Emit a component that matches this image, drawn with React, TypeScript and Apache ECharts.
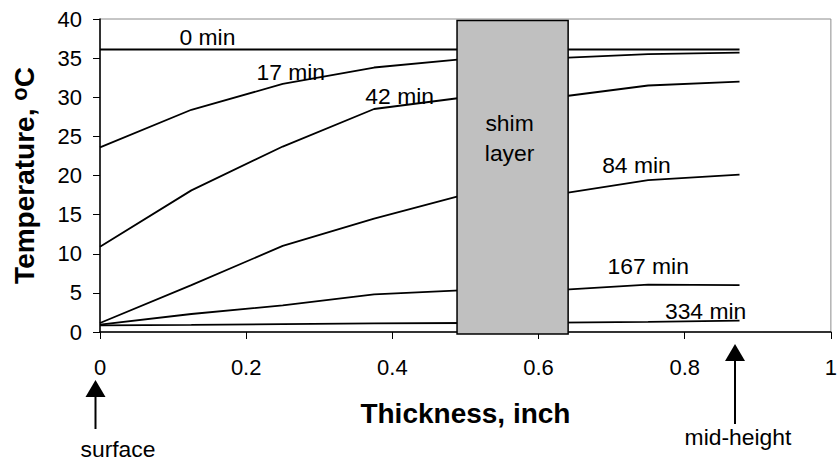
import React, { useEffect, useRef } from "react";
import * as echarts from "echarts";

// Thickness positions (inch)
const THICKNESS = [0, 0.125, 0.25, 0.375, 0.5, 0.625, 0.75, 0.875];

// Temperature profiles (°C) at each time
const T_0MIN = [36.1, 36.1, 36.1, 36.1, 36.1, 36.1, 36.1, 36.1];
const T_17MIN = [23.6, 28.4, 31.7, 33.8, 34.9, 35.0, 35.5, 35.7];
const T_42MIN = [10.9, 18.1, 23.7, 28.5, 30.0, 30.0, 31.5, 32.0];
const T_84MIN = [1.15, 6.0, 11.0, 14.5, 17.6, 17.6, 19.4, 20.1];
const T_167MIN = [0.95, 2.3, 3.4, 4.8, 5.35, 5.35, 6.05, 6.0];
const T_334MIN = [0.85, 0.9, 1.0, 1.1, 1.15, 1.2, 1.3, 1.45];

const SERIES_NAMES = ["0 min", "17 min", "42 min", "84 min", "167 min", "334 min"];
const SERIES_VALUES = [T_0MIN, T_17MIN, T_42MIN, T_84MIN, T_167MIN, T_334MIN];

// Label anchor (data coords) for each series name
const LABEL_X = [0.147, 0.261, 0.41, 0.734, 0.75, 0.8286];
const LABEL_Y = [37.6, 33.2, 30.1, 21.3, 8.4, 2.6];

// Shim layer extent (thickness, inch) and vertical extent (°C)
const SHIM_X = [0.4885, 0.6405];
const SHIM_Y = [-0.27, 39.8];

const FONT = "'Liberation Sans', Arial, sans-serif";

export default function App() {
  const ref = useRef<HTMLDivElement>(null);

  useEffect(() => {
    if (!ref.current) return;
    const chart = echarts.init(ref.current, undefined, { renderer: "svg" });

    const series = SERIES_NAMES.map((name, i) => ({
      name,
      type: "line",
      data: THICKNESS.map((x, j) => [x, SERIES_VALUES[i][j]]),
      symbol: "none",
      silent: true,
      clip: false,
      lineStyle: { color: "#000", width: 1.8 },
      z: 2,
    }));

    chart.setOption({
      animation: false,
      backgroundColor: "#fff",
      grid: {
        left: 100,
        right: 5,
        top: 19,
        bottom: 132,
        show: true,
        borderColor: "#8c8c8c",
        borderWidth: 1,
        backgroundColor: "transparent",
      },
      xAxis: {
        type: "value",
        min: 0,
        max: 1,
        interval: 0.2,
        name: "Thickness, inch",
        nameLocation: "middle",
        nameGap: 67,
        nameTextStyle: { fontSize: 28, fontWeight: "bold", color: "#000", fontFamily: FONT },
        axisLine: { show: true, lineStyle: { color: "#000", width: 1.5 } },
        axisTick: { show: true, length: 7, lineStyle: { color: "#000", width: 1 } },
        axisLabel: { fontSize: 22, color: "#000", fontFamily: FONT, margin: 24 },
        splitLine: { show: false },
      },
      yAxis: {
        type: "value",
        min: 0,
        max: 40,
        interval: 5,
        name: "Temperature, {sup|o}C",
        nameLocation: "middle",
        nameGap: 60,
        nameTextStyle: {
          fontSize: 28,
          fontWeight: "bold",
          color: "#000",
          fontFamily: FONT,
          rich: {
            sup: {
              fontSize: 22,
              fontWeight: "bold",
              color: "#000",
              fontFamily: FONT,
              padding: [0, 0, 10, 0],
            },
          },
        },
        axisLine: { show: true, lineStyle: { color: "#000", width: 1.5 } },
        axisTick: { show: true, length: 7, lineStyle: { color: "#000", width: 1 } },
        axisLabel: { fontSize: 22, color: "#000", fontFamily: FONT, margin: 18 },
        splitLine: { show: false },
      },
      series,
    });

    const p = (x: number, y: number) =>
      chart.convertToPixel({ gridIndex: 0 }, [x, y]) as number[];

    const shimA = p(SHIM_X[0], SHIM_Y[1]);
    const shimB = p(SHIM_X[1], SHIM_Y[0]);

    const txt = (text: string, x: number, y: number, extra: any = {}) => ({
      type: "text",
      x,
      y,
      z: 60,
      scaleX: 1.04,
      style: {
        text,
        fontSize: 22,
        fontFamily: FONT,
        fill: "#000",
        align: "center",
        verticalAlign: "middle",
        ...extra,
      },
    });

    const labelEls = SERIES_NAMES.map((name, i) => {
      const pt = p(LABEL_X[i], LABEL_Y[i]);
      return txt(name, pt[0], pt[1]);
    });

    const x0 = p(0, 0)[0] - 4.5;
    const xMid = p(0.875, 0)[0] - 4.5;

    const arrow = (x: number, tipY: number, baseY: number, endY: number) => [
      {
        type: "polygon",
        z: 60,
        shape: { points: [[x, tipY], [x - 10, baseY], [x + 10, baseY]] },
        style: { fill: "#000" },
      },
      {
        type: "line",
        z: 60,
        shape: { x1: x, y1: baseY - 1, x2: x, y2: endY },
        style: { stroke: "#000", lineWidth: 2 },
      },
    ];

    chart.setOption({
      graphic: [
        {
          type: "rect",
          z: 50,
          shape: {
            x: shimA[0],
            y: shimA[1],
            width: shimB[0] - shimA[0],
            height: shimB[1] - shimA[1],
          },
          style: { fill: "#c0c0c0", stroke: "#000", lineWidth: 1.5 },
        },
        txt("shim\nlayer", (shimA[0] + shimB[0]) / 2 - 3, 139, { lineHeight: 30 }),
        ...labelEls,
        ...arrow(x0, 380, 397, 429),
        txt("surface", 118, 450),
        ...arrow(xMid, 344, 361, 424),
        txt("mid-height", 738, 438),
      ],
    });

    return () => chart.dispose();
  }, []);

  return (
    <div
      ref={ref}
      style={{ position: "fixed", left: 0, top: 0, width: 840, height: 464, background: "#fff" }}
    />
  );
}
